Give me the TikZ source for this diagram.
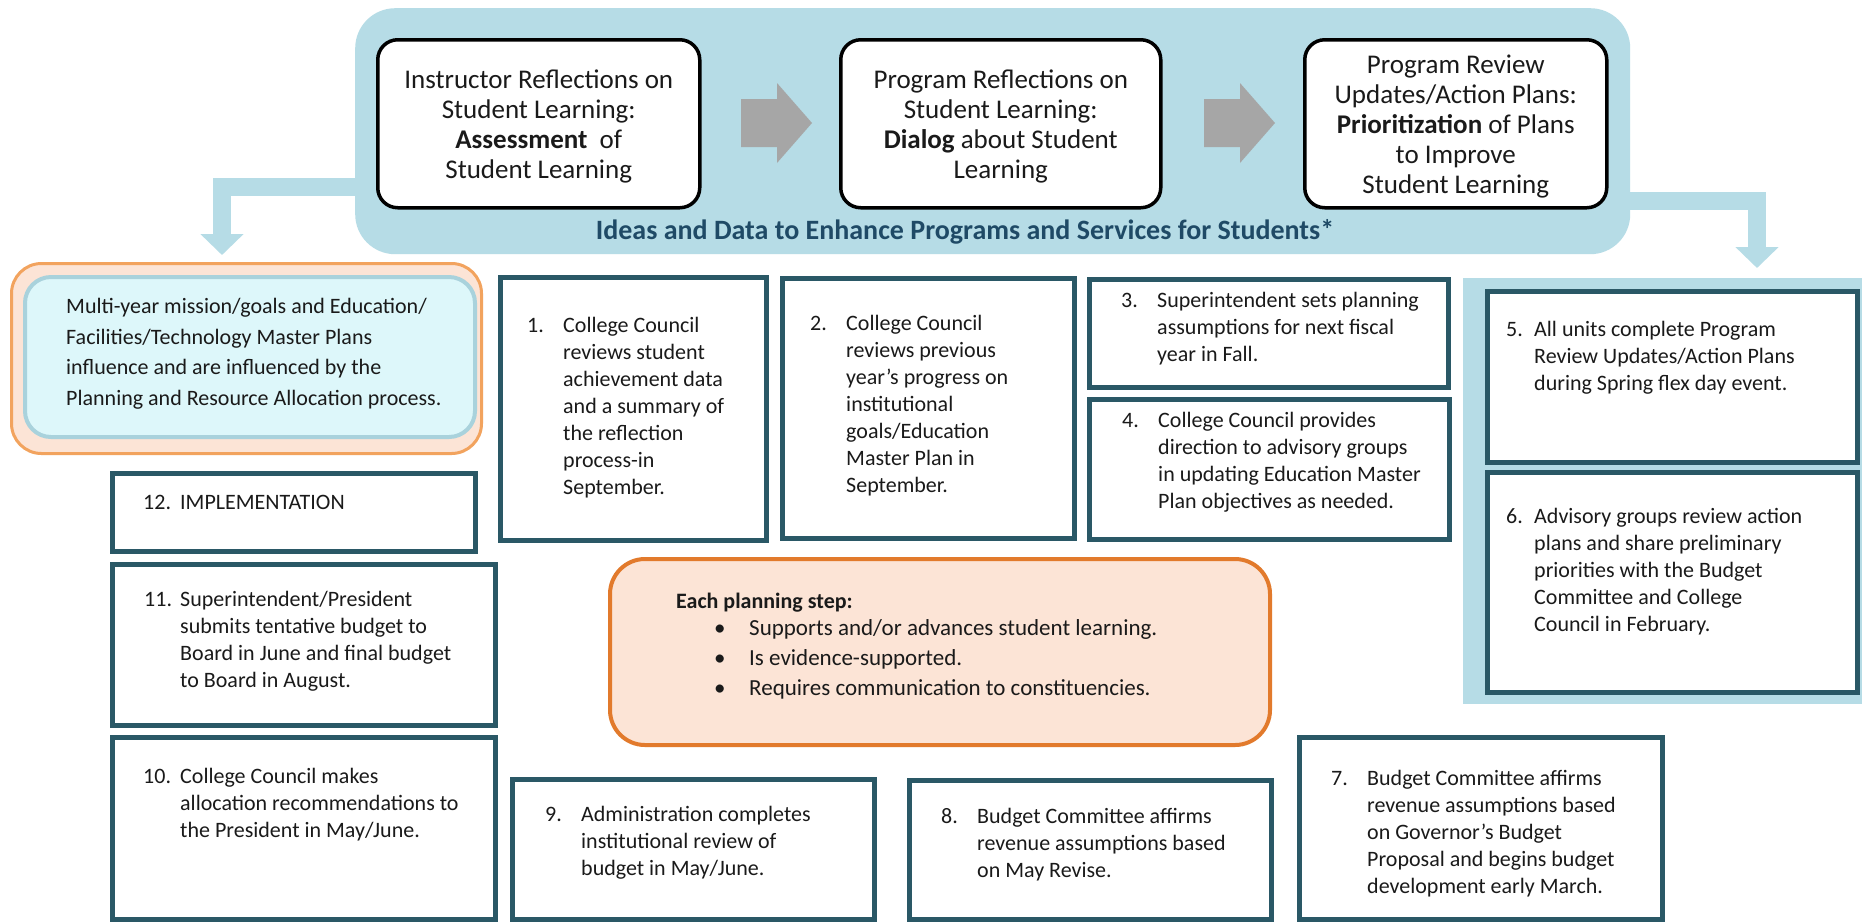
\documentclass[tikz,border=0pt]{standalone}
\usepackage{fontspec}
\setmainfont{Carlito}
\usetikzlibrary{positioning,arrows.meta}

\definecolor{panelblue}{HTML}{B6DCE6}
\definecolor{stepframe}{HTML}{2A5866}
\definecolor{ideasblue}{HTML}{1F4A66}
\definecolor{peach}{HTML}{FCE4D6}
\definecolor{planorange}{HTML}{E27A2C}
\definecolor{missionorange}{HTML}{F2A35E}
\definecolor{missioncyan}{HTML}{DDF7FA}
\definecolor{missionframe}{HTML}{A9D2DC}
\definecolor{arrowgray}{HTML}{A6A6A6}
\definecolor{ink}{HTML}{1A1A1A}

\begin{document}
\begin{tikzpicture}[x=1pt, y=-1pt,
  every node/.style={text=ink},
  phase/.style={draw=black, line width=3.5pt, rounded corners=20pt, fill=white, anchor=north west,
    inner sep=0pt, minimum height=168pt},
  phasetext/.style={align=center, inner sep=0pt, yshift=-3pt, font=\fontsize{27}{30}\selectfont},
  stepbox/.style={draw=stepframe, line width=5pt, anchor=north west, inner sep=0pt},
  steptext/.style={anchor=north west, inner sep=0pt, align=left, font=\fontsize{22}{27}\selectfont},
  stepnum/.style={steptext, xshift=-36pt},
  bluearrow/.style={draw=panelblue, line width=18pt, -{Triangle[width=42pt,length=21pt]}}]
\fill[white] (0,0) rectangle (1862,922);
\useasboundingbox (0,0) rectangle (1862,922);

% reflection cycle
\node[fill=panelblue, rounded corners=40pt, anchor=north west, minimum width=1275pt,
  minimum height=246pt, inner sep=0pt] (ideas) at (355,8) {};
\coordinate (ltip) at (222,255);
\coordinate (rtip) at (1757,268);
\draw[bluearrow] ([xshift=10pt,yshift=-56pt]ideas.west) -| (ltip);
\draw[bluearrow] ([xshift=-10pt,yshift=-70pt]ideas.east) -| (rtip);

\node[phase, minimum width=322pt] (instr) at (376,38) {};
\node[phasetext] (instrt) at (instr.center)
  {Instructor Reflections on\\Student Learning:\\\textbf{Assessment}\ \ of\\Student Learning};
\node[phase, minimum width=320pt] (prog) at (839,38) {};
\node[phasetext] (progt) at (prog.center)
  {Program Reflections on\\Student Learning:\\\textbf{Dialog} about Student\\Learning};
\node[phase, minimum width=302pt] (review) at (1303,38) {};
\node[phasetext] (reviewt) at (review.center)
  {Program Review\\Updates/Action Plans:\\\textbf{Prioritization} of Plans\\to Improve\\Student Learning};
\foreach \x in {741,1204}
  \fill[arrowgray] (\x,99) -- ++(36,0) -- ++(0,-16) -- ++(35,40) -- ++(-35,40) -- ++(0,-16) -- ++(-36,0) -- cycle;
\node[font=\bfseries\fontsize{28}{32}\selectfont, text=ideasblue, inner sep=0pt] (ideastxt) at (965,232)
  {Ideas and Data to Enhance Programs and Services for Students*};

% mission / master plans
\node[draw=missionorange, line width=3pt, fill=peach, rounded corners=30pt, anchor=north west,
  minimum width=470pt, minimum height=190pt, inner sep=0pt] (mission) at (10,262) {};
\node[draw=missionframe, line width=4pt, fill=missioncyan, rounded corners=26pt, anchor=north west,
  minimum width=450pt, minimum height=160pt, inner sep=0pt] (missionin) at (23,275) {};
\node[anchor=north west, inner sep=0pt, align=left, font=\fontsize{22}{30.7}\selectfont] (missiontxt) at (66,298)
  {Multi-year mission/goals and Education/\\Facilities/Technology Master Plans\\influence and are influenced by the\\Planning and Resource Allocation process.};

% planning steps
\node[stepbox, minimum width=266pt, minimum height=263pt] (s1) at (498,275) {};
\node[steptext] (s1t) at ([xshift=65pt,yshift=-38pt]s1.north west)
  {\strut College Council\\reviews student\\achievement data\\and a summary of\\the reflection\\process-in\\September.};
\node[stepnum] (s1n) at (s1t.north west) {\strut 1.};
\node[stepbox, minimum width=292pt, minimum height=260pt] (s2) at (780,276) {};
\node[steptext] (s2t) at ([xshift=66pt,yshift=-35pt]s2.north west)
  {\strut College Council\\reviews previous\\year’s progress on\\institutional\\goals/Education\\Master Plan in\\September.};
\node[stepnum] (s2n) at (s2t.north west) {\strut 2.};
\node[stepbox, minimum width=359pt, minimum height=108pt] (s3) at (1087,277) {};
\node[steptext] (s3t) at ([xshift=70pt,yshift=-11pt]s3.north west)
  {\strut Superintendent sets planning\\assumptions for next fiscal\\year in Fall.};
\node[stepnum] (s3n) at (s3t.north west) {\strut 3.};
\node[stepbox, minimum width=360pt, minimum height=140pt] (s4) at (1087,397) {};
\node[steptext] (s4t) at ([xshift=71pt,yshift=-11pt]s4.north west)
  {\strut College Council provides\\direction to advisory groups\\in updating Education Master\\Plan objectives as needed.};
\node[stepnum] (s4n) at (s4t.north west) {\strut 4.};

\node[fill=panelblue, anchor=north west, minimum width=399pt, minimum height=426pt, inner sep=0pt] (actionpanel) at (1463,278) {};
\node[stepbox, fill=white, minimum width=370pt, minimum height=171pt] (s5) at (1485,289) {};
\node[steptext] (s5t) at ([xshift=49pt,yshift=-28pt]s5.north west)
  {\strut All units complete Program\\Review Updates/Action Plans\\during Spring flex day event.};
\node[stepnum, xshift=8pt] (s5n) at (s5t.north west) {\strut 5.};
\node[stepbox, fill=white, minimum width=370pt, minimum height=220pt] (s6) at (1485,470) {};
\node[steptext] (s6t) at ([xshift=49pt,yshift=-34pt]s6.north west)
  {\strut Advisory groups review action\\plans and share preliminary\\priorities with the Budget\\Committee and College\\Council in February.};
\node[stepnum, xshift=8pt] (s6n) at (s6t.north west) {\strut 6.};

\node[stepbox, minimum width=363pt, minimum height=182pt] (s7) at (1297,735) {};
\node[steptext] (s7t) at ([xshift=70pt,yshift=-31pt]s7.north west)
  {\strut Budget Committee affirms\\revenue assumptions based\\on Governor’s Budget\\Proposal and begins budget\\development early March.};
\node[stepnum] (s7n) at (s7t.north west) {\strut 7.};
\node[stepbox, minimum width=362pt, minimum height=139pt] (s8) at (907,778) {};
\node[steptext] (s8t) at ([xshift=70pt,yshift=-26pt]s8.north west)
  {\strut Budget Committee affirms\\revenue assumptions based\\on May Revise.};
\node[stepnum] (s8n) at (s8t.north west) {\strut 8.};
\node[stepbox, minimum width=362pt, minimum height=140pt] (s9) at (510,777) {};
\node[steptext] (s9t) at ([xshift=71pt,yshift=-25pt]s9.north west)
  {\strut Administration completes\\institutional review of\\budget in May/June.};
\node[stepnum] (s9n) at (s9t.north west) {\strut 9.};
\node[stepbox, minimum width=383pt, minimum height=182pt] (s10) at (110,735) {};
\node[steptext] (s10t) at ([xshift=70pt,yshift=-29pt]s10.north west)
  {\strut College Council makes\\allocation recommendations to\\the President in May/June.};
\node[stepnum, xshift=-1pt] (s10n) at (s10t.north west) {\strut 10.};
\node[stepbox, minimum width=383pt, minimum height=161pt] (s11) at (110,562) {};
\node[steptext] (s11t) at ([xshift=70pt,yshift=-25pt]s11.north west)
  {\strut Superintendent/President\\submits tentative budget to\\Board in June and final budget\\to Board in August.};
\node[stepnum] (s11n) at (s11t.north west) {\strut 11.};
\node[stepbox, minimum width=363pt, minimum height=78pt] (s12) at (110,471) {};
\node[steptext] (s12t) at ([xshift=70pt,yshift=-19pt]s12.north west) {\strut IMPLEMENTATION};
\node[stepnum, xshift=-1pt] (s12n) at (s12t.north west) {\strut 12.};

% what every step has to do
\node[draw=planorange, line width=4pt, fill=peach, rounded corners=35pt, anchor=north west,
  minimum width=660pt, minimum height=186pt, inner sep=0pt] (plan) at (608,557) {};
\node[anchor=north west, inner sep=0pt, font=\bfseries\fontsize{22}{27}\selectfont] (plantitle) at (676,593) {Each planning step:};
\foreach \t [count=\i] in {Supports and/or advances student learning., Is evidence-supported., Requires communication to constituencies.}
  \node[anchor=north west, inner sep=0pt, font=\fontsize{23}{30}\selectfont] (bullet\i) at (714,{589+30*\i})
    {\makebox[35pt][l]{\textbullet}\t};
\end{tikzpicture}
\end{document}
